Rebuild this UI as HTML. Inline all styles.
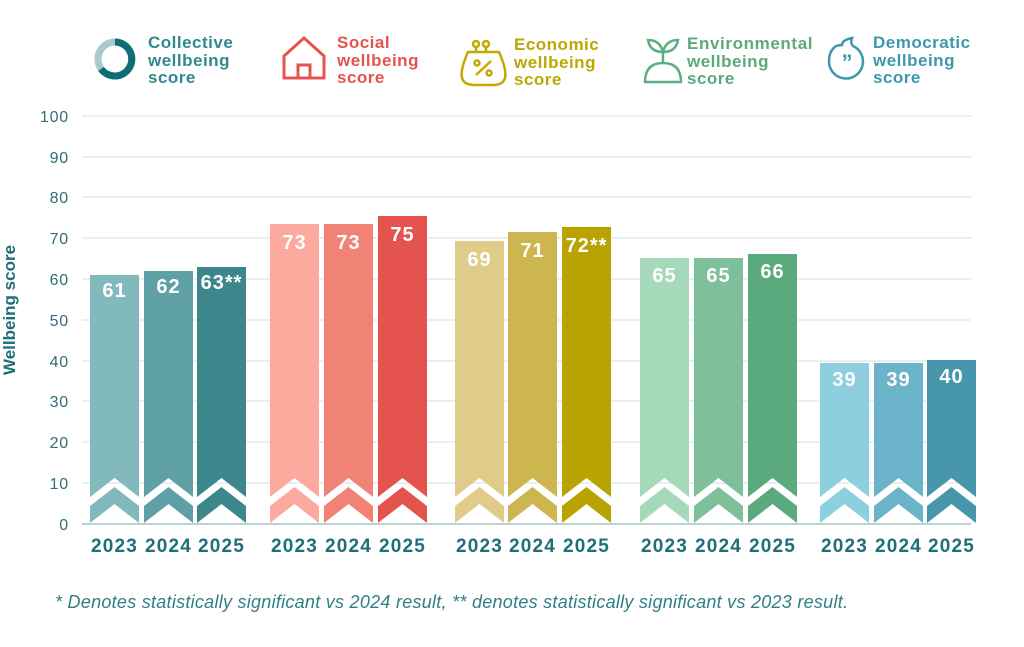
<!DOCTYPE html>
<html><head><meta charset="utf-8"><style>
body{margin:0;background:#fff;}
svg{display:block;font-family:"Liberation Sans",sans-serif;}
.t{font-weight:bold;font-size:17px;letter-spacing:0.5px;}
.v{font-weight:bold;font-size:20px;fill:#fff;text-anchor:middle;letter-spacing:1px;}
.yr{font-weight:bold;font-size:19px;fill:#1f6f78;text-anchor:middle;letter-spacing:1.2px;}
.ax{font-size:16px;fill:#2f6f75;text-anchor:end;letter-spacing:0.8px;}
</style></head><body>
<svg width="1024" height="647" viewBox="0 0 1024 647">
<g stroke="#cfe3e3" stroke-width="1">
<line x1="82" x2="971" y1="116" y2="116"/><line x1="82" x2="971" y1="157" y2="157"/>
<line x1="82" x2="971" y1="197" y2="197"/><line x1="82" x2="971" y1="238" y2="238"/>
<line x1="82" x2="971" y1="279" y2="279"/><line x1="82" x2="971" y1="320" y2="320"/>
<line x1="82" x2="971" y1="361" y2="361"/><line x1="82" x2="971" y1="401" y2="401"/>
<line x1="82" x2="971" y1="442" y2="442"/><line x1="82" x2="971" y1="483" y2="483"/>
</g>
<line x1="82" x2="971" y1="524" y2="524" stroke="#b8d4d4" stroke-width="2"/>
<g class="ax">
<text x="69" y="122">100</text><text x="69" y="163">90</text><text x="69" y="203">80</text>
<text x="69" y="244">70</text><text x="69" y="285">60</text><text x="69" y="326">50</text>
<text x="69" y="367">40</text><text x="69" y="407">30</text><text x="69" y="448">20</text>
<text x="69" y="489">10</text><text x="69" y="530">0</text>
</g>
<text transform="translate(15,310) rotate(-90)" text-anchor="middle" font-size="17" font-weight="bold" fill="#1f6f78">Wellbeing score</text>

<g>
<g fill="#82b9bd"><polygon points="90,275 139,275 139,497 114.5,478 90,497"/><polygon points="90,506 114.5,487 139,506 139,523 114.5,504 90,523"/></g>
<g fill="#5fa0a6"><polygon points="144,271 193,271 193,497 168.5,478 144,497"/><polygon points="144,506 168.5,487 193,506 193,523 168.5,504 144,523"/></g>
<g fill="#3d878c"><polygon points="197,267 246,267 246,497 221.5,478 197,497"/><polygon points="197,506 221.5,487 246,506 246,523 221.5,504 197,523"/></g>

<g fill="#fbaa9d"><polygon points="270,224 319,224 319,497 294.5,478 270,497"/><polygon points="270,506 294.5,487 319,506 319,523 294.5,504 270,523"/></g>
<g fill="#f08276"><polygon points="324,224 373,224 373,497 348.5,478 324,497"/><polygon points="324,506 348.5,487 373,506 373,523 348.5,504 324,523"/></g>
<g fill="#e5534f"><polygon points="378,216 427,216 427,497 402.5,478 378,497"/><polygon points="378,506 402.5,487 427,506 427,523 402.5,504 378,523"/></g>

<g fill="#e0cc8a"><polygon points="455,241 504,241 504,497 479.5,478 455,497"/><polygon points="455,506 479.5,487 504,506 504,523 479.5,504 455,523"/></g>
<g fill="#cdb64f"><polygon points="508,232 557,232 557,497 532.5,478 508,497"/><polygon points="508,506 532.5,487 557,506 557,523 532.5,504 508,523"/></g>
<g fill="#b9a300"><polygon points="562,227 611,227 611,497 586.5,478 562,497"/><polygon points="562,506 586.5,487 611,506 611,523 586.5,504 562,523"/></g>

<g fill="#a5d9b9"><polygon points="640,258 689,258 689,497 664.5,478 640,497"/><polygon points="640,506 664.5,487 689,506 689,523 664.5,504 640,523"/></g>
<g fill="#7fc09a"><polygon points="694,258 743,258 743,497 718.5,478 694,497"/><polygon points="694,506 718.5,487 743,506 743,523 718.5,504 694,523"/></g>
<g fill="#5aaa7e"><polygon points="748,254 797,254 797,497 772.5,478 748,497"/><polygon points="748,506 772.5,487 797,506 797,523 772.5,504 748,523"/></g>

<g fill="#8ecfdf"><polygon points="820,363 869,363 869,497 844.5,478 820,497"/><polygon points="820,506 844.5,487 869,506 869,523 844.5,504 820,523"/></g>
<g fill="#6ab3c8"><polygon points="874,363 923,363 923,497 898.5,478 874,497"/><polygon points="874,506 898.5,487 923,506 923,523 898.5,504 874,523"/></g>
<g fill="#4896ac"><polygon points="927,360 976,360 976,497 951.5,478 927,497"/><polygon points="927,506 951.5,487 976,506 976,523 951.5,504 927,523"/></g>
</g>

<text class="v" x="114.5" y="297">61</text><text class="v" x="168.5" y="293">62</text><text class="v" x="221.5" y="289">63**</text>
<text class="v" x="294.5" y="249">73</text><text class="v" x="348.5" y="249">73</text><text class="v" x="402.5" y="241">75</text>
<text class="v" x="479.5" y="266">69</text><text class="v" x="532.5" y="257">71</text><text class="v" x="586.5" y="252">72**</text>
<text class="v" x="664.5" y="282">65</text><text class="v" x="718.5" y="282">65</text><text class="v" x="772.5" y="278">66</text>
<text class="v" x="844.5" y="386">39</text><text class="v" x="898.5" y="386">39</text><text class="v" x="951.5" y="383">40</text>

<g class="yr">
<text x="114.5" y="552">2023</text><text x="168.5" y="552">2024</text><text x="221.5" y="552">2025</text>
<text x="294.5" y="552">2023</text><text x="348.5" y="552">2024</text><text x="402.5" y="552">2025</text>
<text x="479.5" y="552">2023</text><text x="532.5" y="552">2024</text><text x="586.5" y="552">2025</text>
<text x="664.5" y="552">2023</text><text x="718.5" y="552">2024</text><text x="772.5" y="552">2025</text>
<text x="844.5" y="552">2023</text><text x="898.5" y="552">2024</text><text x="951.5" y="552">2025</text>
</g>

<text x="55" y="608" font-size="18" font-style="italic" fill="#2f7f85" textLength="793" lengthAdjust="spacing">* Denotes statistically significant vs 2024 result, ** denotes statistically significant vs 2023 result.</text>

<circle cx="115" cy="59" r="17" fill="none" stroke="#a9c9cb" stroke-width="7"/>
<path d="M115 42 A17 17 0 1 1 101 69" fill="none" stroke="#0f6e75" stroke-width="7"/>
<g class="t" fill="#2f8a8f"><text x="148" y="48">Collective</text><text x="148" y="66">wellbeing</text><text x="148" y="83">score</text></g>

<path d="M284 78 V56 L304 38 L324 56 V78 Z M298 78 V65 H310 V78" fill="none" stroke="#e5534f" stroke-width="3"/>
<g class="t" fill="#e5534f"><text x="337" y="48">Social</text><text x="337" y="66">wellbeing</text><text x="337" y="83">score</text></g>

<g fill="none" stroke="#c2a800" stroke-width="2.5">
<path d="M468 52 Q460 70 462 78 Q464 85 475 85 H493 Q503 85 505 78 Q507 70 499 52 Z"/>
<circle cx="476" cy="44" r="3"/><circle cx="486" cy="44" r="3"/>
<path d="M476 47 V52 M486 47 V52"/>
<circle cx="477" cy="63" r="2.5"/><circle cx="489" cy="73" r="2.5"/><path d="M476 75 L491 61"/>
</g>
<g class="t" fill="#bda700"><text x="514" y="50">Economic</text><text x="514" y="68">wellbeing</text><text x="514" y="85">score</text></g>

<g fill="none" stroke="#5fae83" stroke-width="2.5">
<path d="M645 82 Q645 63 663 63 Q681 63 681 82 Z"/><path d="M663 63 V52"/>
<path d="M663 52 Q650 52 648 40 Q660 40 663 52 Q666 40 678 40 Q676 52 663 52"/>
</g>
<g class="t" fill="#5aaa7e"><text x="687" y="49" textLength="126" lengthAdjust="spacing">Environmental</text><text x="687" y="67">wellbeing</text><text x="687" y="84">score</text></g>

<g fill="none" stroke="#3f97ad" stroke-width="2.5">
<path d="M836 46 Q829 51 829 61 A17 17 0 1 0 853 46 Q850 43 852 38 Q842 40 842 45 Q839 45 836 46 Z"/>
</g>
<text x="847" y="70" font-size="22" font-weight="bold" fill="#3f97ad" text-anchor="middle">”</text>
<g class="t" fill="#3f97ad"><text x="873" y="48">Democratic</text><text x="873" y="66">wellbeing</text><text x="873" y="83">score</text></g>
</svg>
</body></html>
